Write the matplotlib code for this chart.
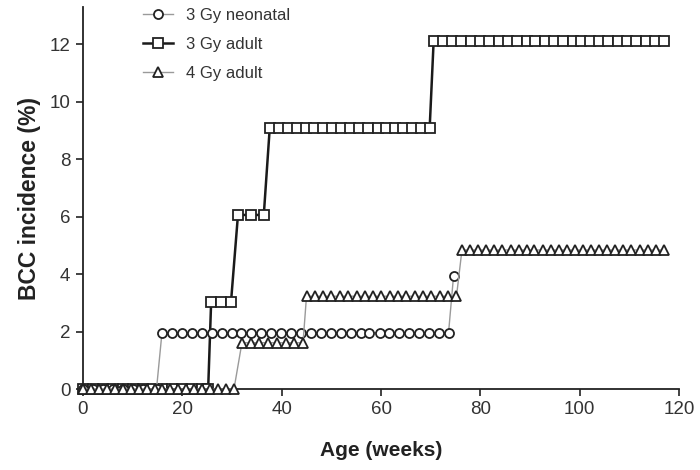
import numpy as np
import matplotlib
matplotlib.use('Agg')
import matplotlib.pyplot as plt

plt.rcParams['font.family'] = ['Liberation Sans', 'DejaVu Sans']

# 3 Gy neonatal (weeks, % incidence)
neo_weeks = [0, 2, 4, 6, 8, 10, 12, 14.8,
             15.9, 17.9, 19.9, 21.9, 23.9, 25.9, 27.9, 29.9, 31.9, 33.9, 35.9,
             37.9, 39.9, 41.9, 43.9, 45.9, 47.9, 49.9, 51.9, 53.9, 55.9, 57.6,
             59.7, 61.7, 63.7, 65.7, 67.7, 69.7, 71.7, 73.6,
             74.6]
neo_inc = [0, 0, 0, 0, 0, 0, 0, 0,
           1.96, 1.96, 1.96, 1.96, 1.96, 1.96, 1.96, 1.96, 1.96, 1.96, 1.96,
           1.96, 1.96, 1.96, 1.96, 1.96, 1.96, 1.96, 1.96, 1.96, 1.96, 1.96,
           1.96, 1.96, 1.96, 1.96, 1.96, 1.96, 1.96, 1.96,
           3.92]

# 3 Gy adult
ad3_weeks = [0, 2, 4, 6, 8, 10, 12, 14, 16, 18, 20, 22, 24, 25.2,
             25.8, 27.8, 29.8,
             31.2, 33.8, 36.4,
             37.6, 39.4, 41.2, 43.0, 44.8, 46.6, 48.4, 50.2, 52.0, 53.8, 55.6, 57.4,
             59.4, 61.1, 62.8, 64.5, 66.2, 68.0, 69.8,
             70.6, 72.5, 74.3, 76.2, 78.1, 79.9, 81.8, 83.7, 85.5, 87.4, 89.3, 91.1,
             93.0, 94.9, 96.7, 98.6,
             100.2, 102.1, 103.9, 105.8, 107.7, 109.5, 111.4, 113.3, 115.1, 117.0]
ad3_inc = [0] * 14 + [3.03] * 3 + [6.06] * 3 + [9.09] * 19 + [12.12] * 26

# 4 Gy adult
ad4_weeks = [0, 1.6, 3.2, 4.8, 6.4, 8.0, 9.6, 11.2, 12.8, 14.4, 16.0, 17.6, 19.2,
             20.8, 22.4, 24.0, 25.6, 27.2, 28.8, 30.4,
             32.0, 33.8, 35.5, 37.3, 39.0, 40.8, 42.5, 44.3,
             45.0, 46.7, 48.4, 50.0, 51.7, 53.4, 55.1, 56.7, 58.4, 60.1, 61.8, 63.4,
             65.1, 66.8, 68.5, 70.1, 71.8, 73.5, 75.2,
             76.3, 77.9, 79.6, 81.2, 82.8, 84.4, 86.1, 87.7, 89.3, 90.9, 92.6, 94.2,
             95.8, 97.4, 99.1, 100.7, 102.3, 103.9, 105.6, 107.2, 108.8, 110.4, 112.1,
             113.7, 115.3, 117.0]
ad4_inc = [0] * 20 + [1.61] * 8 + [3.23] * 19 + [4.84] * 26

fig = plt.figure(figsize=(7, 4.7), dpi=100)
ax = fig.add_axes([83 / 700, 1 - 389 / 470, 596 / 700, 382 / 470])

mk = dict(markerfacecolor='white', markeredgecolor='#222222', markeredgewidth=1.3,
          clip_on=False)
ax.plot(neo_weeks, neo_inc, color='#9a9a9a', lw=1.0, marker='o', ms=6.5,
        label='3 Gy neonatal', zorder=3, **mk)
ax.plot(ad3_weeks, ad3_inc, color='#1a1a1a', lw=1.8, marker='s', ms=6.8,
        label='3 Gy adult', zorder=2, **mk)
ax.plot(ad4_weeks, ad4_inc, color='#9a9a9a', lw=1.0, marker='^', ms=7,
        label='4 Gy adult', zorder=4, **mk)

ax.set_xlim(0, 120)
ax.set_ylim(0, 13.3)
ax.set_xticks([0, 20, 40, 60, 80, 100, 120])
ax.set_yticks([0, 2, 4, 6, 8, 10, 12])
for s in ['top', 'right']:
    ax.spines[s].set_visible(False)
for s in ['left', 'bottom']:
    ax.spines[s].set_linewidth(1.3)
    ax.spines[s].set_color('#222222')
ax.tick_params(direction='out', length=5, width=1.2, labelsize=13.5,
               colors='#222222', labelcolor='#333333', pad=4)

ax.set_xlabel('Age (weeks)', fontsize=15, fontweight='bold', color='#222222',
              labelpad=16)
ax.set_ylabel('BCC incidence (%)', fontsize=16.5, fontweight='bold', color='#222222',
              labelpad=6)

leg = ax.legend(loc='upper left', bbox_to_anchor=(143 / 700, 1 - 8 / 470),
                bbox_transform=fig.transFigure, frameon=False, fontsize=12,
                handlelength=1.8, handletextpad=0.8, labelspacing=0.85,
                borderpad=0, borderaxespad=0)
for t in leg.get_texts():
    t.set_color('#333333')

fig.savefig('out.png', dpi=100)
